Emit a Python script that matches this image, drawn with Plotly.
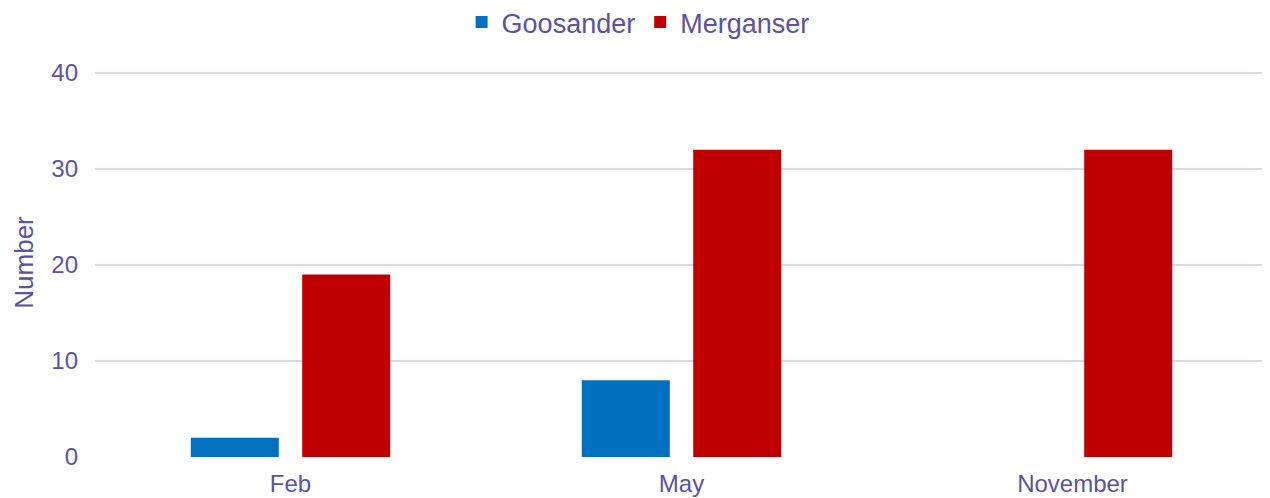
import plotly.graph_objects as go

months = ['Feb', 'May', 'November']
goosander = [2, 8, 0]
merganser = [19, 32, 32]

text_color = '#5B52A0'

fig = go.Figure()

fig.add_trace(go.Bar(
    x=months,
    y=goosander,
    name='Goosander',
    marker=dict(color='#0070C0', line=dict(width=0))
))

fig.add_trace(go.Bar(
    x=months,
    y=merganser,
    name='Merganser',
    marker=dict(color='#C00000', line=dict(width=0))
))

# page body adds ~8px offset, margins compensate for it
fig.update_layout(
    width=1270,
    height=498,
    barmode='group',
    bargap=0.43,
    bargroupgap=0.21,
    plot_bgcolor='white',
    paper_bgcolor='white',
    font=dict(family='Liberation Sans, Arial, sans-serif', size=24, color=text_color),
    margin=dict(l=87, r=10, t=60, b=49, autoexpand=False),
    legend=dict(
        orientation='h',
        x=0.463, xanchor='center',
        y=0.971, yanchor='middle',
        yref='container',
        font=dict(size=27),
        itemwidth=30,
        traceorder='normal'
    ),
    xaxis=dict(
        showgrid=False,
        showline=False,
        ticks='',
        ticklabelstandoff=10,
        tickfont=dict(size=24),
    ),
    yaxis=dict(
        title=dict(text='Number', font=dict(size=26), standoff=10),
        range=[0, 40.5],
        tickvals=[0, 10, 20, 30, 40],
        gridcolor='#D9D6EA',
        gridwidth=2,
        zeroline=False,
        showline=False,
        ticks='',
        ticklabelstandoff=16,
        tickfont=dict(size=24),
    ),
)

fig.write_html('out.html')
